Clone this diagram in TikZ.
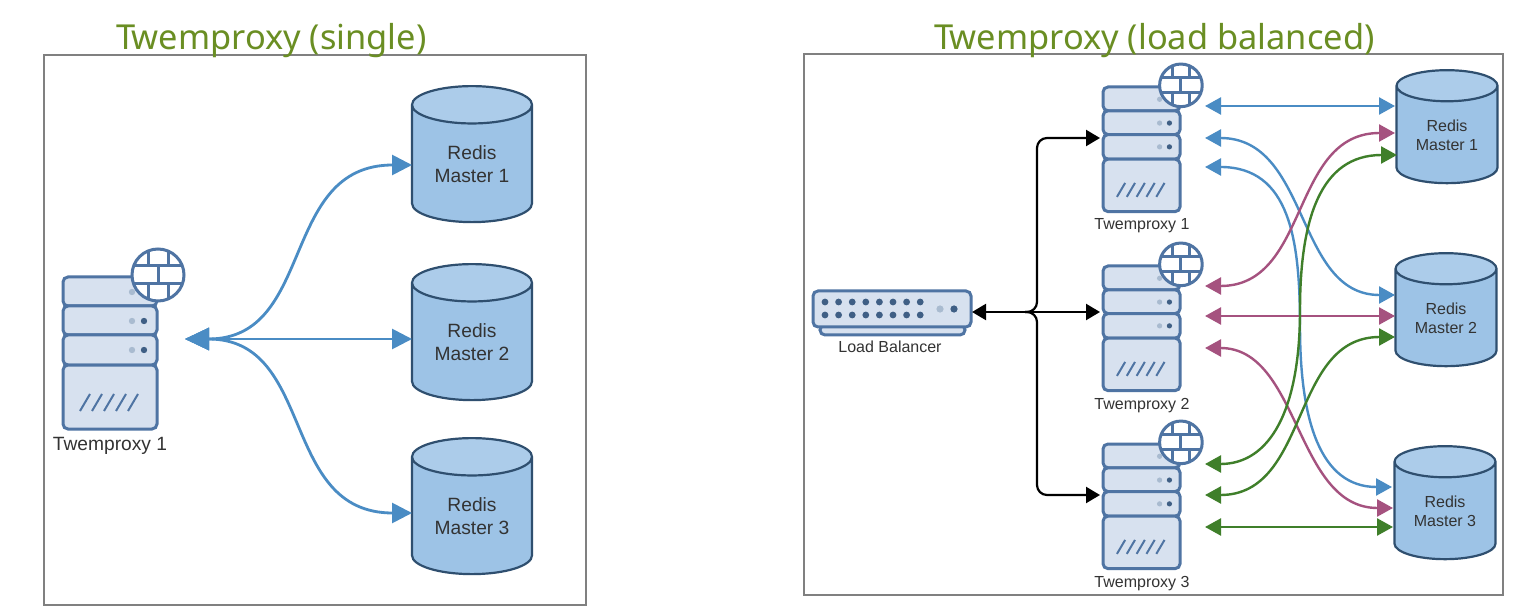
\documentclass[tikz,border=0pt]{standalone}
\usepackage{fontspec}
\setmainfont{Liberation Sans}
\newfontfamily\titlefont{Noto Sans}
\usetikzlibrary{arrows.meta,shapes.geometric}
\definecolor{frameC}{HTML}{808080}
\definecolor{titleC}{HTML}{6A8E23}
\definecolor{srvFill}{HTML}{D7E1EF}
\definecolor{srvLine}{HTML}{4F74A3}
\definecolor{ledL}{HTML}{A9BBD0}
\definecolor{ledD}{HTML}{3F5F85}
\definecolor{cylFill}{HTML}{9DC3E6}
\definecolor{cylLine}{HTML}{2F4F6F}
\definecolor{blueA}{HTML}{4A8CC4}
\definecolor{pinkA}{HTML}{A5527F}
\definecolor{greenA}{HTML}{3F7F2A}
\definecolor{textC}{HTML}{333333}
\tikzset{
  frameBox/.style={draw=frameC,line width=1.3pt,fill=white},
  titleText/.style={font=\titlefont\fontsize{17.2}{20}\selectfont,text=titleC,inner sep=0,anchor=base west},
  srvRow/.style={draw=srvLine,fill=srvFill,line width=1.5pt,rounded corners=2.5pt},
  srvLabel/.style={font=\fontsize{8}{10}\selectfont,text=textC,inner sep=0},
  srvLabelBig/.style={font=\fontsize{9.6}{11}\selectfont,text=textC,inner sep=0},
  cylBase/.style={cylinder,shape border rotate=90,draw=cylLine,line width=1.1pt,
    cylinder uses custom fill,cylinder body fill=cylFill,cylinder end fill=cylFill!85!white,
    inner sep=0,outer sep=0,align=center,text=textC},
  cylBig/.style={cylBase,minimum width=60pt,minimum height=68pt,aspect=0.5,font=\fontsize{9.6}{11.5}\selectfont},
  cylSmall/.style={cylBase,minimum width=50.5pt,minimum height=56.5pt,aspect=0.5,font=\fontsize{8}{9.5}\selectfont},
  bigArrow/.style={blueA,line width=1.4pt,{Triangle[length=12pt,width=11pt]}-{Triangle[length=10pt,width=10pt]}},
  smallArrow/.style={line width=1.2pt,{Triangle[length=8pt,width=8.5pt]}-{Triangle[length=8pt,width=8.5pt]}},
  blackArrow/.style={black,line width=1.1pt,rounded corners=5pt,-{Triangle[length=7pt,width=8pt]}},
  server/.pic={
    \draw[srvRow] (0,0) rectangle (94,29);
    \draw[srvRow] (0,29) rectangle (94,58);
    \draw[srvRow] (0,58) rectangle (94,88);
    \draw[srvRow] (0,88) rectangle (94,152);
    \fill[ledL] (69,15) circle (3.2);
    \fill[ledL] (69,44) circle (3.2);
    \fill[ledD] (81,44) circle (3.2);
    \fill[ledL] (69,73) circle (3.2);
    \fill[ledD] (81,73) circle (3.2);
    \foreach \sx in {22,34,46,58,70}
      \draw[srvLine,line width=1pt] (\sx-5,134) -- (\sx+5,117);
    \begin{scope}[shift={(95,-2)}]
      \draw[srvLine,line width=1.5pt,fill=white] (0,0) circle (26);
      \draw[srvLine,line width=1.5pt]
        (-24.4,-9) -- (24.4,-9) (-24.4,9) -- (24.4,9)
        (-10,-24) -- (-10,-9) (10,-24) -- (10,-9)
        (0,-9) -- (0,9)
        (-10,9) -- (-10,24) (10,9) -- (10,24);
    \end{scope}
  }
}
\newcommand{\twem}{T\kern-1.9pt wemproxy}
\begin{document}
\begin{tikzpicture}[x=0.5pt,y=-0.5pt]
\useasboundingbox[fill=white] (0,0) rectangle (1524,614);
% frames and titles
\draw[frameBox] (44,55) rectangle (586,605);
\draw[frameBox] (804,54) rectangle (1503,595);
\node[titleText] (titleL) at (116,50) {\twem\ (single)};
\node[titleText] (titleR) at (934,50) {\twem\ (load balanced)};
% --- left diagram
\pic at (63,277) {server};
\node[srvLabelBig] (labL) at (110,446) {Twemproxy 1};
\coordinate (proxyL) at (185,339);
\node[cylBig] (mL1) at (472,164) {Redis\\Master 1};
\node[cylBig] (mL2) at (472,342) {Redis\\Master 2};
\node[cylBig] (mL3) at (472,516) {Redis\\Master 3};
\coordinate (mL1a) at (412,165);
\coordinate (mL2a) at (412,339);
\coordinate (mL3a) at (412,513);
\draw[bigArrow] (proxyL) .. controls (316,339) and (279,165) .. (mL1a);
\draw[bigArrow] (proxyL) -- (mL2a);
\draw[bigArrow] (proxyL) .. controls (316,339) and (279,513) .. (mL3a);
% --- right diagram: load balancer
\draw[srvRow] (820,325) rectangle (965,335);
\node[srvRow,minimum width=79pt,minimum height=18pt,inner sep=0,outer sep=0] (lb) at (892,309) {};
\foreach \px in {0,...,7}{
  \fill[ledD] (825+13.6*\px,302) circle (3.4);
  \fill[ledD] (825+13.6*\px,315) circle (3.4);
}
\fill[ledL] (940,309) circle (3.6);
\fill[ledD] (954,309) circle (3.6);
\node[srvLabel] (labLB) at (890,347) {Load Balancer};
% servers
\pic[scale=0.82] at (1103,87) {server};
\pic[scale=0.82] at (1103,266) {server};
\pic[scale=0.82] at (1103,444) {server};
\node[srvLabel] (labS1) at (1142,226) {Twemproxy 1};
\node[srvLabel] (labS2) at (1142,406) {Twemproxy 2};
\node[srvLabel] (labS3) at (1142,584) {Twemproxy 3};
% masters
\node[cylSmall] (m1) at (1447,135) {Redis\\Master 1};
\node[cylSmall] (m2) at (1446,318) {Redis\\Master 2};
\node[cylSmall] (m3) at (1445,511) {Redis\\Master 3};
% black connectors
\coordinate (srv1in) at (1100,138);
\coordinate (srv2in) at (1100,312);
\coordinate (srv3in) at (1100,495);
\coordinate (hub) at (1025,312);
\draw[blackArrow] (hub) -- (1037,312) -- (1037,138) -- (srv1in);
\draw[blackArrow] (hub) -- (1037,312) -- (1037,495) -- (srv3in);
\draw[black,line width=1.1pt,{Triangle[length=7pt,width=8pt]}-{Triangle[length=7pt,width=8pt]}] (972,312) -- (srv2in);
% endpoints
\coordinate (a1) at (1205,106);  \coordinate (a1t) at (1395,106);
\coordinate (a2) at (1205,138);  \coordinate (a2t) at (1395,295);
\coordinate (a3) at (1205,167);  \coordinate (a3t) at (1392,487);
\coordinate (b1) at (1205,286);  \coordinate (b1t) at (1395,133);
\coordinate (b2) at (1205,316);  \coordinate (b2t) at (1395,316);
\coordinate (b3) at (1205,348);  \coordinate (b3t) at (1393,508);
\coordinate (c1) at (1205,464);  \coordinate (c1t) at (1397,155);
\coordinate (c2) at (1205,495);  \coordinate (c2t) at (1395,337);
\coordinate (c3) at (1205,527);  \coordinate (c3t) at (1393,527);
\draw[smallArrow,blueA] (a1) -- (a1t);
\draw[smallArrow,blueA] (a2) .. controls (1310,138) and (1295,295) .. (a2t);
\draw[smallArrow,blueA] (a3) .. controls (1290,167) and (1300,240) .. (1300,327) .. controls (1300,420) and (1320,487) .. (a3t);
\draw[smallArrow,pinkA] (b1) .. controls (1310,286) and (1290,133) .. (b1t);
\draw[smallArrow,pinkA] (b2) -- (b2t);
\draw[smallArrow,pinkA] (b3) .. controls (1300,348) and (1295,508) .. (b3t);
\draw[smallArrow,greenA] (c1) .. controls (1270,464) and (1300,410) .. (1300,310) .. controls (1300,220) and (1320,155) .. (c1t);
\draw[smallArrow,greenA] (c2) .. controls (1310,495) and (1290,337) .. (c2t);
\draw[smallArrow,greenA] (c3) -- (c3t);
\end{tikzpicture}
\end{document}
